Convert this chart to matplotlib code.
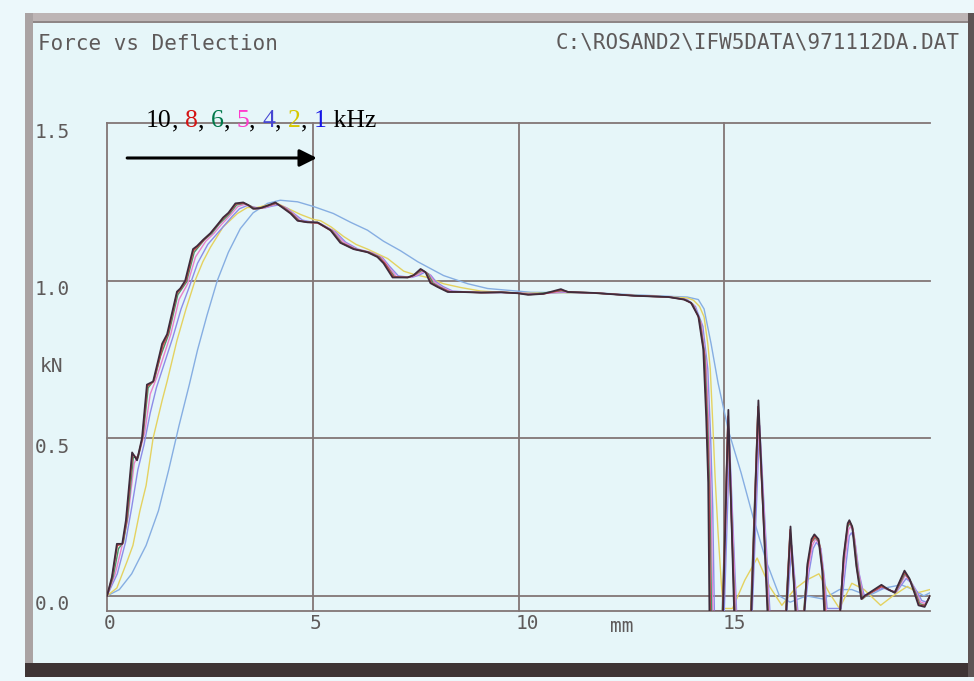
import matplotlib
matplotlib.use('Agg')
import matplotlib.pyplot as plt
from matplotlib.patches import Rectangle
from matplotlib.transforms import ScaledTranslation

# ---------------- data (deflection mm, force kN) ----------------
C10 = [(0, 0.0), (0.12, 0.06), (0.24, 0.165), (0.37, 0.165), (0.46, 0.24), (0.61, 0.455), (0.73, 0.43),
       (0.85, 0.50), (0.97, 0.67), (1.12, 0.68), (1.24, 0.745), (1.34, 0.80), (1.46, 0.83), (1.70, 0.965),
       (1.78, 0.975), (1.90, 1.0), (2.09, 1.10), (2.19, 1.11), (2.34, 1.13), (2.51, 1.15), (2.70, 1.18),
       (2.82, 1.20), (2.95, 1.215), (3.12, 1.245), (3.31, 1.248), (3.43, 1.24), (3.55, 1.228), (3.72, 1.23),
       (3.90, 1.238), (4.09, 1.248), (4.26, 1.232), (4.46, 1.213), (4.63, 1.19), (4.87, 1.185), (5.11, 1.185),
       (5.43, 1.16), (5.67, 1.12), (5.99, 1.10), (6.33, 1.09), (6.57, 1.075), (6.72, 1.055), (6.94, 1.01),
       (7.30, 1.01), (7.45, 1.017), (7.62, 1.037), (7.74, 1.027), (7.86, 0.992), (8.03, 0.98), (8.28, 0.964),
       (8.60, 0.964), (9.08, 0.962), (9.57, 0.963), (9.98, 0.96), (10.23, 0.955), (10.60, 0.958), (11.03, 0.973),
       (11.20, 0.964), (11.83, 0.961), (12.81, 0.952), (13.64, 0.948), (14.02, 0.94), (14.19, 0.93),
       (14.37, 0.887), (14.49, 0.783), (14.56, 0.57), (14.61, 0.36), (14.64, -0.05), (14.97, -0.05),
       (15.10, 0.59), (15.24, -0.05), (15.66, -0.05), (15.83, 0.62), (16.05, -0.05), (16.51, -0.05),
       (16.61, 0.22), (16.73, -0.05), (16.95, -0.05), (17.02, 0.10), (17.12, 0.18), (17.19, 0.195),
       (17.29, 0.18), (17.38, 0.08), (17.43, -0.05), (17.82, -0.05), (17.90, 0.125), (18.00, 0.23),
       (18.04, 0.24), (18.11, 0.22), (18.21, 0.095), (18.33, -0.01), (18.41, 0.0), (18.82, 0.035),
       (18.99, 0.02), (19.14, 0.01), (19.38, 0.08), (19.50, 0.055), (19.62, 0.01), (19.72, -0.03),
       (19.87, -0.035), (20.0, 0.0)]

C8 = [(0, 0.0), (0.12, 0.055), (0.25, 0.16), (0.38, 0.165), (0.47, 0.235), (0.62, 0.45), (0.74, 0.435),
      (0.86, 0.50), (0.98, 0.665), (1.13, 0.68), (1.25, 0.74), (1.36, 0.795), (1.48, 0.83), (1.70, 0.96),
      (1.80, 0.975), (1.92, 1.0), (2.10, 1.095), (2.22, 1.11), (2.36, 1.13), (2.52, 1.15), (2.71, 1.18),
      (2.84, 1.20), (2.97, 1.215), (3.13, 1.243), (3.32, 1.246), (3.45, 1.238), (3.57, 1.228), (3.74, 1.23),
      (3.92, 1.238), (4.10, 1.246), (4.28, 1.232), (4.48, 1.213), (4.65, 1.19), (4.89, 1.185), (5.12, 1.183),
      (5.45, 1.158), (5.69, 1.12), (6.01, 1.10), (6.35, 1.09), (6.59, 1.075), (6.75, 1.055), (6.96, 1.012),
      (7.31, 1.01), (7.47, 1.018), (7.63, 1.035), (7.76, 1.025), (7.88, 0.993), (8.05, 0.98), (8.30, 0.965),
      (8.62, 0.964), (9.10, 0.962), (9.58, 0.963), (10.0, 0.96), (10.25, 0.956), (10.62, 0.958), (11.04, 0.97),
      (11.22, 0.964), (11.85, 0.961), (12.82, 0.952), (13.65, 0.948), (14.03, 0.94), (14.21, 0.928),
      (14.39, 0.88), (14.51, 0.77), (14.58, 0.55), (14.63, 0.33), (14.66, -0.05), (14.96, -0.05),
      (15.09, 0.57), (15.25, -0.05), (15.65, -0.05), (15.82, 0.60), (16.06, -0.05), (16.50, -0.05),
      (16.60, 0.21), (16.74, -0.05), (16.94, -0.05), (17.02, 0.09), (17.12, 0.17), (17.20, 0.19),
      (17.30, 0.175), (17.39, 0.08), (17.45, -0.05), (17.81, -0.05), (17.90, 0.12), (18.00, 0.225),
      (18.05, 0.235), (18.12, 0.215), (18.22, 0.09), (18.34, -0.01), (18.43, 0.0), (18.82, 0.03),
      (19.00, 0.02), (19.15, 0.01), (19.38, 0.075), (19.51, 0.05), (19.63, 0.01), (19.74, -0.03),
      (19.88, -0.03), (20.0, 0.0)]

C6 = [(0, 0.0), (0.15, 0.06), (0.28, 0.15), (0.40, 0.17), (0.50, 0.25), (0.64, 0.44), (0.76, 0.44),
      (0.88, 0.51), (1.0, 0.66), (1.15, 0.685), (1.30, 0.76), (1.50, 0.83), (1.72, 0.955), (1.93, 0.995),
      (2.12, 1.09), (2.37, 1.13), (2.55, 1.15), (2.73, 1.18), (2.98, 1.212), (3.15, 1.24), (3.33, 1.245),
      (3.47, 1.238), (3.60, 1.228), (3.76, 1.23), (3.93, 1.238), (4.11, 1.245), (4.30, 1.232), (4.50, 1.212),
      (4.67, 1.19), (4.90, 1.185), (5.14, 1.183), (5.47, 1.158), (5.71, 1.12), (6.03, 1.10), (6.37, 1.09),
      (6.62, 1.075), (6.78, 1.05), (6.99, 1.012), (7.33, 1.01), (7.50, 1.02), (7.66, 1.033), (7.80, 1.022),
      (7.92, 0.993), (8.08, 0.98), (8.32, 0.965), (8.65, 0.964), (9.10, 0.962), (9.60, 0.963), (10.0, 0.96),
      (10.30, 0.956), (11.05, 0.968), (11.25, 0.964), (11.85, 0.961), (12.83, 0.952), (13.65, 0.948),
      (14.05, 0.94), (14.23, 0.926), (14.41, 0.875), (14.53, 0.76), (14.60, 0.54), (14.65, 0.32),
      (14.69, -0.05), (14.95, -0.05), (15.09, 0.55), (15.26, -0.05), (15.64, -0.05), (15.82, 0.60),
      (16.07, -0.05), (16.49, -0.05), (16.60, 0.20), (16.75, -0.05), (16.93, -0.05), (17.02, 0.09),
      (17.12, 0.17), (17.21, 0.185), (17.31, 0.17), (17.40, 0.07), (17.46, -0.05), (17.80, -0.05),
      (17.90, 0.11), (18.00, 0.22), (18.06, 0.23), (18.13, 0.21), (18.24, 0.085), (18.36, -0.01),
      (18.45, 0.0), (18.82, 0.03), (19.00, 0.02), (19.16, 0.01), (19.39, 0.07), (19.52, 0.05),
      (19.65, 0.01), (19.75, -0.025), (19.88, -0.03), (20.0, 0.0)]

C5 = [(0, 0.0), (0.20, 0.07), (0.35, 0.15), (0.50, 0.24), (0.66, 0.42), (0.80, 0.46), (0.92, 0.52),
      (1.05, 0.64), (1.20, 0.69), (1.35, 0.75), (1.55, 0.83), (1.75, 0.94), (1.96, 0.99), (2.15, 1.075),
      (2.40, 1.125), (2.60, 1.15), (2.78, 1.178), (3.0, 1.208), (3.18, 1.235), (3.35, 1.242), (3.50, 1.236),
      (3.65, 1.228), (3.80, 1.23), (3.96, 1.237), (4.13, 1.243), (4.33, 1.232), (4.53, 1.212), (4.70, 1.19),
      (4.93, 1.185), (5.17, 1.182), (5.50, 1.158), (5.75, 1.122), (6.06, 1.10), (6.40, 1.09), (6.66, 1.075),
      (6.82, 1.048), (7.03, 1.013), (7.36, 1.01), (7.53, 1.018), (7.69, 1.03), (7.83, 1.02), (7.96, 0.995),
      (8.12, 0.98), (8.36, 0.966), (8.70, 0.964), (9.15, 0.962), (9.60, 0.963), (10.05, 0.96),
      (10.35, 0.957), (11.07, 0.965), (11.30, 0.963), (11.87, 0.961), (12.85, 0.952), (13.67, 0.948),
      (14.07, 0.94), (14.26, 0.922), (14.44, 0.865), (14.56, 0.74), (14.63, 0.52), (14.68, 0.30),
      (14.72, -0.05), (14.97, -0.05), (15.11, 0.53), (15.28, -0.05), (15.66, -0.05), (15.84, 0.58),
      (16.09, -0.05), (16.50, -0.05), (16.62, 0.18), (16.77, -0.05), (16.94, -0.05), (17.04, 0.085),
      (17.14, 0.16), (17.22, 0.18), (17.33, 0.16), (17.42, 0.06), (17.48, -0.05), (17.82, -0.05),
      (17.92, 0.10), (18.02, 0.21), (18.07, 0.22), (18.15, 0.20), (18.26, 0.08), (18.38, -0.005),
      (18.50, 0.005), (18.85, 0.03), (19.02, 0.018), (19.18, 0.012), (19.40, 0.065), (19.54, 0.045),
      (19.67, 0.01), (19.77, -0.02), (19.90, -0.025), (20.0, 0.0)]

C4 = [(0, 0.0), (0.25, 0.07), (0.45, 0.17), (0.60, 0.28), (0.75, 0.40), (0.90, 0.48), (1.05, 0.58),
      (1.20, 0.66), (1.40, 0.74), (1.60, 0.82), (1.80, 0.91), (2.0, 0.98), (2.20, 1.055), (2.45, 1.115),
      (2.65, 1.145), (2.85, 1.175), (3.05, 1.205), (3.22, 1.228), (3.40, 1.238), (3.55, 1.234), (3.70, 1.229),
      (3.85, 1.231), (4.0, 1.236), (4.17, 1.24), (4.37, 1.23), (4.57, 1.21), (4.75, 1.192), (4.97, 1.186),
      (5.20, 1.18), (5.55, 1.155), (5.80, 1.122), (6.10, 1.10), (6.45, 1.088), (6.70, 1.072), (6.87, 1.045),
      (7.08, 1.015), (7.40, 1.01), (7.58, 1.017), (7.73, 1.027), (7.87, 1.017), (8.0, 0.996), (8.17, 0.981),
      (8.40, 0.967), (8.75, 0.964), (9.20, 0.962), (9.65, 0.962), (10.10, 0.96), (10.40, 0.958),
      (11.10, 0.963), (11.35, 0.962), (11.90, 0.96), (12.88, 0.952), (13.70, 0.948), (14.10, 0.94),
      (14.30, 0.918), (14.48, 0.855), (14.60, 0.72), (14.67, 0.50), (14.72, 0.28), (14.76, -0.05),
      (15.0, -0.05), (15.13, 0.48), (15.30, -0.05), (15.68, -0.05), (15.86, 0.54), (16.11, -0.05),
      (16.52, -0.05), (16.64, 0.16), (16.79, -0.05), (16.95, -0.05), (17.06, 0.075), (17.16, 0.15),
      (17.24, 0.17), (17.35, 0.15), (17.44, 0.05), (17.50, -0.04), (17.84, -0.04), (17.95, 0.09),
      (18.04, 0.19), (18.09, 0.20), (18.17, 0.18), (18.28, 0.07), (18.40, 0.0), (18.55, 0.01),
      (18.87, 0.025), (19.05, 0.015), (19.20, 0.015), (19.42, 0.055), (19.56, 0.04), (19.70, 0.01),
      (19.80, -0.015), (19.92, -0.02), (20.0, 0.0)]

C2 = [(0, 0.0), (0.24, 0.025), (0.49, 0.11), (0.63, 0.16), (0.80, 0.27), (0.95, 0.35), (1.12, 0.50),
      (1.34, 0.62), (1.46, 0.68), (1.70, 0.81), (1.92, 0.91), (2.14, 1.0), (2.33, 1.06), (2.51, 1.105),
      (2.82, 1.17), (3.17, 1.213), (3.41, 1.232), (3.65, 1.232), (3.90, 1.24), (4.14, 1.245), (4.38, 1.23),
      (4.70, 1.21), (5.02, 1.194), (5.19, 1.19), (5.45, 1.17), (5.75, 1.14), (6.05, 1.115), (6.33, 1.10),
      (6.82, 1.07), (7.21, 1.03), (7.45, 1.02), (7.79, 1.01), (8.18, 0.99), (8.60, 0.978), (9.08, 0.967),
      (9.60, 0.963), (10.30, 0.96), (11.10, 0.962), (11.85, 0.96), (12.85, 0.953), (13.70, 0.948),
      (14.10, 0.945), (14.25, 0.938), (14.40, 0.918), (14.51, 0.885), (14.60, 0.80), (14.66, 0.72),
      (14.72, 0.55), (14.78, 0.37), (14.85, 0.20), (14.93, 0.037), (14.98, -0.04), (15.20, -0.04),
      (15.50, 0.05), (15.80, 0.12), (16.10, 0.03), (16.40, -0.03), (16.70, 0.02), (17.0, 0.05),
      (17.30, 0.07), (17.55, 0.01), (17.80, -0.04), (18.10, 0.04), (18.40, 0.02), (18.80, -0.03),
      (19.10, 0.0), (19.45, 0.03), (19.70, 0.01), (20.0, 0.02)]

C1 = [(0, 0.0), (0.30, 0.02), (0.60, 0.07), (0.95, 0.16), (1.25, 0.27), (1.50, 0.40), (1.75, 0.54),
      (2.0, 0.67), (2.20, 0.78), (2.43, 0.89), (2.68, 1.0), (2.95, 1.09), (3.24, 1.165), (3.55, 1.215),
      (3.90, 1.245), (4.21, 1.255), (4.63, 1.25), (5.02, 1.235), (5.50, 1.213), (5.92, 1.185), (6.33, 1.16),
      (6.72, 1.125), (7.13, 1.095), (7.55, 1.06), (8.18, 1.016), (8.77, 0.99), (9.25, 0.975), (10.30, 0.963),
      (11.10, 0.962), (11.85, 0.961), (12.85, 0.955), (13.70, 0.95), (14.10, 0.948), (14.37, 0.94),
      (14.51, 0.91), (14.68, 0.80), (14.85, 0.675), (15.10, 0.525), (15.41, 0.39), (15.70, 0.25),
      (16.02, 0.11), (16.34, 0.0), (16.60, -0.02), (17.0, 0.0), (17.40, -0.01), (17.80, 0.02),
      (18.10, 0.02), (18.50, 0.0), (18.90, 0.025), (19.30, 0.035), (19.60, 0.02), (19.85, 0.0), (20.0, 0.01)]

series = [("1 kHz", C1, "#86aee2", 1.0), ("2 kHz", C2, "#e4d260", 1.0), ("4 kHz", C4, "#8c8ce8", 1.0),
          ("5 kHz", C5, "#ea82cc", 1.0), ("6 kHz", C6, "#4a9468", 1.0), ("8 kHz", C8, "#cc4448", 1.1),
          ("10 kHz", C10, "#3e2c3c", 1.3)]

xticks = [0, 5, 10, 15]
xtick_shift_px = [3, 3, 9, 10]
yticks = [0.0, 0.5, 1.0, 1.5]
ytick_labels = ["0.0", "0.5", "1.0", "1.5"]
legend_parts = [("10", "black"), (", ", "black"), ("8", "#d41414"), (", ", "black"), ("6", "#00784a"),
                (", ", "black"), ("5", "#ff3ccc"), (", ", "black"), ("4", "#4646d2"), (", ", "black"),
                ("2", "#d6c800"), (", ", "black"), ("1", "#1414e6"), (" kHz", "black")]

# ---------------- figure ----------------
W, H = 974, 681
fig = plt.figure(figsize=(W / 100, H / 100), dpi=100)
fig.patch.set_facecolor('#ecf8fb')

def rect(x0, y0, x1, y1, color, z=-5):
    fig.patches.append(Rectangle((x0 / W, 1 - y1 / H), (x1 - x0) / W, (y1 - y0) / H,
                                 transform=fig.transFigure, facecolor=color, edgecolor='none', zorder=z))

rect(25, 13, 974, 677, '#e6f6f9', -10)
rect(25, 13, 974, 22, '#bdb5b5')
rect(25, 21, 974, 23, '#8e8686')
rect(25, 13, 33, 677, '#aaa3a3')
rect(25, 663, 974, 677, '#3e3434')
rect(968, 13, 974, 677, '#5e5454')

mono = 'DejaVu Sans Mono'
tcol = '#5e5a5a'
gcol = '#827676'

ax = fig.add_axes([107 / W, 1 - 611 / H, 823 / W, 488 / H])
ax.set_facecolor('none')
ax.set_xlim(0, 20)
ax.set_ylim(-0.048, 1.5)
for s in ['top', 'right']:
    ax.spines[s].set_visible(False)
for s in ['left', 'bottom']:
    ax.spines[s].set_color(gcol)
    ax.spines[s].set_linewidth(1.3)

for yv in yticks:
    ax.axhline(yv, color=gcol, lw=1.3, zorder=1, clip_on=False)
for xv in xticks[1:]:
    ax.axvline(xv, color=gcol, lw=1.3, zorder=1, clip_on=False)

for name, pts, col, lw in series:
    xs = [p[0] for p in pts]
    ys = [p[1] for p in pts]
    ax.plot(xs, ys, color=col, lw=lw, zorder=3, solid_joinstyle='round')

ax.set_xticks(xticks)
ax.set_xticklabels([str(v) for v in xticks], fontfamily=mono, fontsize=14, color=tcol)
ax.set_yticks(yticks)
ax.set_yticklabels(ytick_labels, fontfamily=mono, fontsize=14, color=tcol)
ax.tick_params(axis='x', length=0, pad=2)
ax.tick_params(axis='y', length=0, pad=27)
for lab, sh in zip(ax.get_xticklabels(), xtick_shift_px):
    lab.set_transform(lab.get_transform() + ScaledTranslation(sh / 100, 0, fig.dpi_scale_trans))
for lab in ax.get_yticklabels():
    lab.set_transform(lab.get_transform() + ScaledTranslation(0, -7 / 100, fig.dpi_scale_trans))

fig.text(38 / W, 1 - 44 / H, 'Force vs Deflection', fontfamily=mono, fontsize=15, color=tcol,
         ha='left', va='center')
fig.text(960 / W, 1 - 42 / H, r'C:\ROSAND2\IFW5DATA\971112DA.DAT', fontfamily=mono, fontsize=15,
         color=tcol, ha='right', va='center')
fig.text(51 / W, 1 - 367 / H, 'kN', fontfamily=mono, fontsize=14, color=tcol, ha='center', va='center')
fig.text(622 / W, 1 - 627 / H, 'mm', fontfamily=mono, fontsize=14, color=tcol, ha='center', va='center')

# coloured legend text
prev = None
for txt, col in legend_parts:
    if prev is None:
        prev = ax.text(0.95, 1.487, txt, color=col, fontfamily='Liberation Serif', fontsize=18.5,
                       ha='left', va='baseline', clip_on=False, zorder=5)
    else:
        prev = ax.annotate(txt, xy=(1, 0), xycoords=prev, color=col, fontfamily='Liberation Serif',
                           fontsize=18.5, ha='left', va='bottom', annotation_clip=False, zorder=5)

ax.annotate('', xy=(5.10, 1.389), xytext=(0.49, 1.389),
            arrowprops=dict(arrowstyle='-|>', lw=2.2, color='black', mutation_scale=26,
                            shrinkA=0, shrinkB=0), annotation_clip=False, zorder=5)

fig.savefig('out.png', dpi=100, facecolor=fig.get_facecolor())
